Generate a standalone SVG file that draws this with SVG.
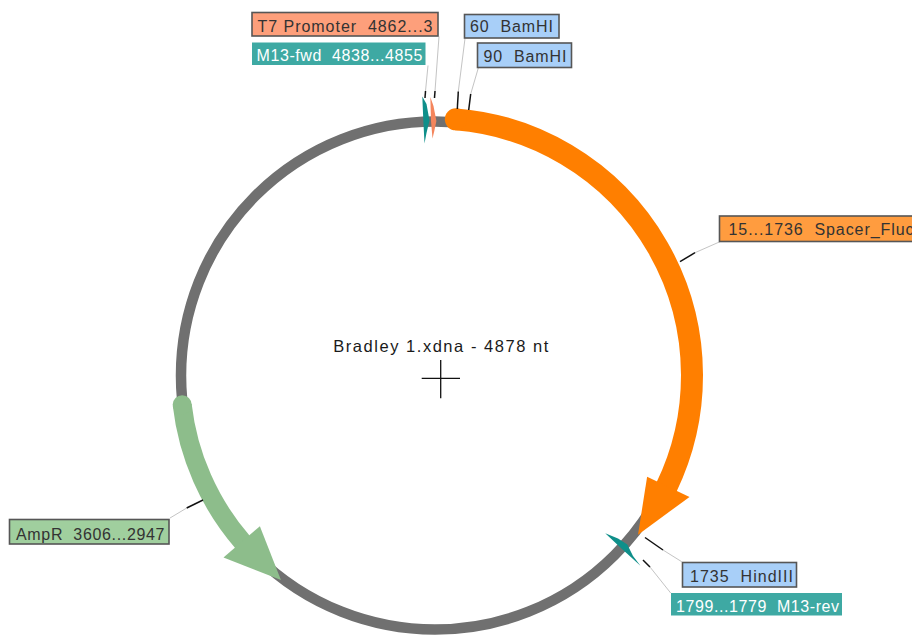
<svg xmlns="http://www.w3.org/2000/svg" width="912" height="636" viewBox="0 0 912 636">
  <style>
    text { white-space: pre; }
    .lbl { font-family: "Liberation Sans", Arial, sans-serif; font-size: 16px; fill: #333333; }
    .lbl-w { font-family: "Liberation Sans", Arial, sans-serif; font-size: 16px; fill: #ffffff; }
    .box { stroke: #565656; stroke-width: 1.6; }
    .site { fill: #a8cff8; }
    .primer { fill: #3ea9a3; }
    .lead { stroke: #c4c4c4; stroke-width: 1; fill: none; }
    .tick { stroke: #111111; stroke-width: 1.5; fill: none; }
  </style>
  <rect width="912" height="636" fill="#ffffff"/>

  <!-- backbone ring -->
  <g id="backbone">
    <circle cx="435" cy="375.5" r="254" fill="none" stroke="#707070" stroke-width="10.5"/>
  </g>

  <!-- Spacer_Fluc 15..1736, forward -->
  <g id="spacer-fluc">
    <path d="M455.83 119.35 A257 257 0 0 1 666.38 487.35" fill="none" stroke="#ff7f00" stroke-width="22"/>
    <circle cx="455.83" cy="119.35" r="11" fill="#ff7f00"/>
    <polygon points="647.11,476.67 689.53,496.90 638.03,534.70" fill="#ff7f00"/>
  </g>

  <!-- AmpR 3606..2947, reverse -->
  <g id="ampr">
    <path d="M182.19 404.75 A254.5 254.5 0 0 0 242.93 542.47" fill="none" stroke="#8dbd8b" stroke-width="19"/>
    <circle cx="182.19" cy="404.75" r="9.5" fill="#8dbd8b"/>
    <polygon points="259.87,526.14 223.48,557.44 280.93,579.95" fill="#8dbd8b"/>
  </g>

  <!-- small features at the origin -->
  <g id="m13-fwd">
    <polygon points="422.3,96.5 426.5,104 429.5,120.5 426.5,133 424.5,143.5 423.3,120" fill="#0f8f8a"/>
  </g>
  <g id="t7-promoter">
    <polygon points="430.3,97 433.5,106 436.4,121 434.3,131 432.5,138.5 431,121" fill="#f4855c"/>
  </g>
  <g id="m13-rev">
    <polygon points="605.23,533.13 618,538.5 627.32,544.46 633,556 640.44,565.74 622,549" fill="#0f8f8a"/>
  </g>

  <!-- leader lines -->
  <g id="connectors">
    <line class="lead" x1="439" y1="36.5" x2="435" y2="91"/>
    <line class="tick" x1="435" y1="91" x2="434.5" y2="98"/>
    <line class="lead" x1="428" y1="65.5" x2="425.5" y2="91"/>
    <line class="tick" x1="425.5" y1="91" x2="425" y2="98"/>
    <line class="lead" x1="465" y1="38.5" x2="458.3" y2="91.5"/>
    <line class="tick" x1="458.3" y1="91.5" x2="457.3" y2="109"/>
    <line class="lead" x1="478.3" y1="68" x2="470.7" y2="94"/>
    <line class="tick" x1="470.7" y1="94" x2="468.7" y2="110"/>
    <line class="lead" x1="720" y1="241.7" x2="695" y2="252.7"/>
    <line class="tick" x1="695" y1="252.7" x2="680" y2="261.7"/>
    <line class="lead" x1="681.7" y1="561.7" x2="663" y2="550"/>
    <line class="tick" x1="663" y1="550" x2="645" y2="537.5"/>
    <line class="lead" x1="670.7" y1="593" x2="650" y2="567"/>
    <line class="tick" x1="650" y1="567" x2="643" y2="560"/>
    <line class="lead" x1="170" y1="518" x2="186.7" y2="508"/>
    <line class="tick" x1="186.7" y1="508" x2="203" y2="500"/>
  </g>

  <!-- labels -->
  <g id="label-t7">
    <rect class="box" x="252" y="12.5" width="186" height="23.5" fill="#fd9f7b"/>
    <text class="lbl" x="257.5" y="31.5" textLength="175" lengthAdjust="spacing">T7 Promoter  4862...3</text>
  </g>
  <g id="label-m13-fwd">
    <rect class="primer" x="252" y="42.5" width="173.5" height="22.5"/>
    <text class="lbl-w" x="256.5" y="60.5" textLength="166" lengthAdjust="spacing">M13-fwd  4838...4855</text>
  </g>
  <g id="label-bamhi-60">
    <rect class="box site" x="464.5" y="14.5" width="94.5" height="23.5"/>
    <text class="lbl" x="470" y="32" textLength="83" lengthAdjust="spacing">60  BamHI</text>
  </g>
  <g id="label-bamhi-90">
    <rect class="box site" x="477.5" y="43" width="94" height="24.5"/>
    <text class="lbl" x="483.5" y="62" textLength="83" lengthAdjust="spacing">90  BamHI</text>
  </g>
  <g id="label-spacer">
    <rect class="box" x="719.5" y="216" width="210" height="25.5" fill="#ff9c3f"/>
    <text class="lbl" x="728.5" y="235" textLength="185" lengthAdjust="spacing">15...1736  Spacer_Fluc</text>
  </g>
  <g id="label-hindiii">
    <rect class="box site" x="682.5" y="562.5" width="114" height="24.5"/>
    <text class="lbl" x="690" y="582" textLength="103" lengthAdjust="spacing">1735  HindIII</text>
  </g>
  <g id="label-m13-rev">
    <rect class="primer" x="671" y="593" width="171" height="22.5"/>
    <text class="lbl-w" x="676" y="611.5" textLength="163" lengthAdjust="spacing">1799...1779  M13-rev</text>
  </g>
  <g id="label-ampr">
    <rect class="box" x="9.5" y="519.5" width="159.5" height="24.5" fill="#a0cf9e"/>
    <text class="lbl" x="16" y="539.5" textLength="148.5" lengthAdjust="spacing">AmpR  3606...2947</text>
  </g>

  <!-- title and centre mark -->
  <g id="title">
    <text x="333.3" y="351.7" font-family="Liberation Sans, Arial, sans-serif" font-size="16.5" fill="#1a1a1a" textLength="215" lengthAdjust="spacing">Bradley 1.xdna - 4878 nt</text>
    <line x1="421.7" y1="378.3" x2="460" y2="378.3" stroke="#111111" stroke-width="1.3"/>
    <line x1="440.7" y1="360" x2="440.7" y2="398.3" stroke="#111111" stroke-width="1.3"/>
  </g>
</svg>
